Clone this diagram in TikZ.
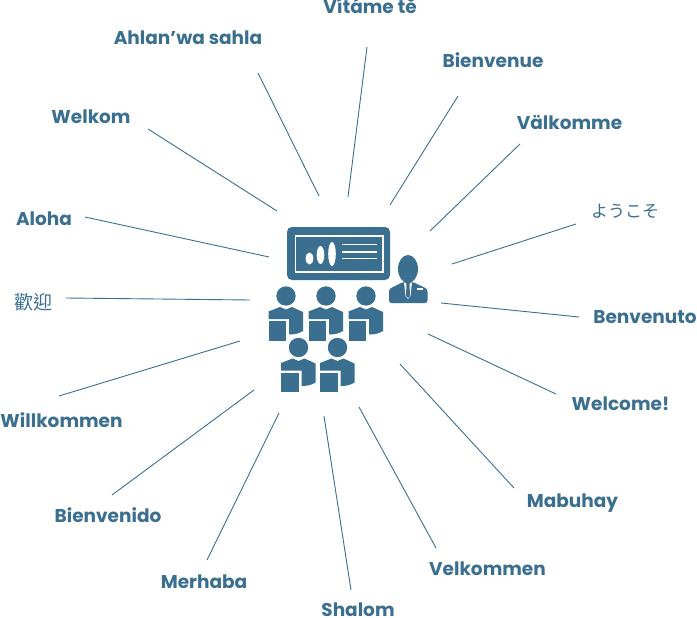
\documentclass[tikz,border=0pt]{standalone}
\usepackage{fontspec}
\setmainfont{Poppins}
\newfontfamily\cjkj{Noto Sans CJK JP}
\newfontfamily\cjkt{Noto Sans CJK TC}
\definecolor{ink}{HTML}{3A6F90}
\tikzset{
  lab/.style={font=\fontsize{18.5}{20}\selectfont\bfseries, text=ink, inner sep=0pt, anchor=base},
  cjklab/.style={font=\fontsize{17}{20}\selectfont, text=ink, inner sep=0pt, anchor=center},
  cjkbig/.style={font=\fontsize{19}{20}\selectfont, text=ink, inner sep=0pt, anchor=center},
  ray/.style={draw=ink, line width=0.9pt}
}
\newcommand{\aud}[2]{%
 \begin{scope}[shift={(#1,#2)}]
  \fill[ink] (0,0) circle (9.7);
  \fill[ink] (-17.5,15.5) -- (-6,11) -- (0,13.5) -- (6,11) -- (17,16) -- (17,35) .. controls (12,38) and (8,38.5) .. (3,38.5) -- (3,23) -- (-17.5,23) -- cycle;
  \fill[ink] (-17.5,25) rectangle (0,44.5);
 \end{scope}}
\begin{document}
\begin{tikzpicture}[x=1pt,y=-1pt]
\useasboundingbox (0,0) rectangle (697,618);
% labels
\node[lab] (a1) at (370,14) {Vítáme tě};
\node[lab] (a2) at (188,45) {Ahlan’wa sahla};
\node[lab] (a3) at (493,68) {Bienvenue};
\node[lab] (a4) at (91,124) {Welkom};
\node[lab] (a5) at (569.5,130) {Välkomme};
\node[cjklab] (a6) at (625,211) {\cjkj ようこそ};
\node[lab] (a7) at (44,225) {Aloha};
\node[cjkbig] (a8) at (33,302) {\cjkt 歡迎};
\node[lab] (a9) at (645,323) {Benvenuto};
\node[lab] (a10) at (620.5,410) {Welcome!};
\node[lab] (a11) at (61.5,427) {Willkommen};
\node[lab] (a12) at (572.5,507) {Mabuhay};
\node[lab] (a13) at (108,522) {Bienvenido};
\node[lab] (a14) at (487.5,575) {Velkommen};
\node[lab] (a15) at (204,588) {Merhaba};
\node[lab] (a16) at (358,616) {Shalom};
% connector ends
\foreach \n/\xa/\ya/\xb/\yb in {
 1/367/47/348/197, 2/258/73/319/196, 3/458/96/390/205, 4/148/129/277/211,
 5/520/144/430/231, 6/576/224/452/264, 7/85/217/269/257, 8/66/298/250/300,
 9/579/317/441/303, 10/556/394/428/334, 11/59/396/240/341, 12/514/488/400/364,
 13/112/495/254/390, 14/436/548/359/407, 15/207/560/279/413, 16/351/590/324/416}{
  \coordinate (s\n) at (\xa,\ya);
  \coordinate (e\n) at (\xb,\yb);
  \draw[ray] (s\n) -- (e\n);
}
% screen
\fill[ink, rounded corners=5pt] (287,227) rectangle (390,280);
\draw[white, line width=1.9pt] (295.5,236) rectangle (383,272);
\fill[white] (309.5,258.5) ellipse (3.8 and 6);
\fill[white] (320.5,255) ellipse (3.8 and 9);
\fill[white] (332,254) ellipse (3.8 and 12);
\draw[white, line width=1.8pt] (342,244.5) -- (377,244.5) (342,252) -- (377,252) (342,258.5) -- (377,258.5);
% audience
\aud{286}{296}
\aud{326}{296}
\aud{366}{296}
\aud{298.5}{347.5}
\aud{337.5}{347.5}
% speaker
\fill[ink] (408,269) ellipse (10 and 14);
\fill[ink, rounded corners=2.5pt] (389,303) -- (389,289) -- (403,282) -- (413,282) -- (427.5,289) -- (427.5,303) -- cycle;
\fill[white] (404,282) -- (408,285) -- (412,282) -- (410.5,296) -- (408,299) -- (405.5,296) -- cycle;
\fill[ink] (406.5,284) -- (409.5,284) -- (410,296) -- (408,298) -- (406,296) -- cycle;
\draw[white, line width=1.1pt] (417,289) -- (423,289);
\end{tikzpicture}
\end{document}
